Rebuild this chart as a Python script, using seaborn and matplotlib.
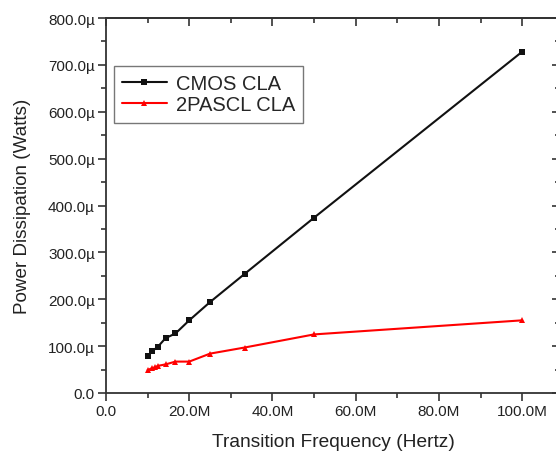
import numpy as np
import pandas as pd
import matplotlib
matplotlib.use("Agg")
import matplotlib.pyplot as plt
import seaborn as sns
from matplotlib.ticker import FuncFormatter, MultipleLocator

# frequencies in MHz, power in microwatts
cmos_freq = [10, 11.1, 12.5, 14.3, 16.7, 20, 25, 33.3, 50, 100]
cmos_power = [78, 89, 99, 117, 127, 155, 194, 254, 374, 728]

pascl_freq = [10, 11.1, 11.8, 12.5, 14.3, 16.7, 20, 25, 33.3, 50, 100]
pascl_power = [49, 53, 55, 58, 61, 67, 67, 84, 97, 125, 155]

series_names = ["CMOS CLA", "2PASCL CLA"]

sns.set_theme(style="white")
plt.rcParams['font.family'] = ['Liberation Sans', 'DejaVu Sans']

fig = plt.figure(figsize=(5.56, 4.6), dpi=100)
ax = fig.add_axes([106/556, 66/460, 454/556, 375/460])

df_cmos = pd.DataFrame({'freq': cmos_freq, 'power': cmos_power})
df_pascl = pd.DataFrame({'freq': pascl_freq, 'power': pascl_power})

sns.lineplot(data=df_cmos, x='freq', y='power', ax=ax, color='#111111', lw=1.5,
             marker='s', markersize=4.5, markeredgewidth=0, label=series_names[0])
sns.lineplot(data=df_pascl, x='freq', y='power', ax=ax, color='#ff0000', lw=1.5,
             marker='^', markersize=5, markeredgewidth=0, label=series_names[1])

ax.set_xlim(0, 109.1)
ax.set_ylim(0, 800)

ax.xaxis.set_major_locator(MultipleLocator(20))
ax.xaxis.set_minor_locator(MultipleLocator(10))
ax.yaxis.set_major_locator(MultipleLocator(100))
ax.yaxis.set_minor_locator(MultipleLocator(50))
ax.xaxis.set_major_formatter(FuncFormatter(lambda v, p: "0.0" if v == 0 else f"{v:.1f}M"))
ax.yaxis.set_major_formatter(FuncFormatter(lambda v, p: "0.0" if v == 0 else f"{v:.1f}\u00b5"))

ax.tick_params(which='major', direction='out', length=6, width=1.2, color='#333333',
               labelsize=11, colors='#333333', labelcolor='#222222', pad=2)
ax.tick_params(which='minor', direction='out', length=3.5, width=1.2, color='#333333')
ax.tick_params(axis='x', which='both', bottom=True)
ax.tick_params(axis='y', which='both', left=True)

for s in ax.spines.values():
    s.set_color('#333333')
    s.set_linewidth(1.3)

top = ax.secondary_xaxis('top')
top.xaxis.set_major_locator(MultipleLocator(20))
top.xaxis.set_minor_locator(MultipleLocator(10))
top.tick_params(which='major', direction='in', length=6, width=1.2, color='#333333', labeltop=False)
top.tick_params(which='minor', direction='in', length=3.5, width=1.2, color='#333333')
top.spines['top'].set_color('#333333')
top.spines['top'].set_linewidth(1.3)

right = ax.secondary_yaxis('right')
right.yaxis.set_major_locator(MultipleLocator(100))
right.yaxis.set_minor_locator(MultipleLocator(50))
right.tick_params(which='major', direction='in', length=6, width=1.2, color='#333333', labelright=False)
right.tick_params(which='minor', direction='in', length=3.5, width=1.2, color='#333333')

ax.set_xlabel("Transition Frequency (Hertz)", fontsize=13.8, color='#222222', labelpad=11)
ax.set_ylabel("Power Dissipation (Watts)", fontsize=13.6, color='#222222', labelpad=12)

leg = ax.legend(loc='upper left', bbox_to_anchor=(0.018, 0.872), borderaxespad=0,
                fontsize=14.5, frameon=True, fancybox=False, handlelength=2.2,
                handletextpad=0.45, borderpad=0.4, labelspacing=0.12)
leg.get_frame().set_edgecolor('#555555')
leg.get_frame().set_linewidth(1.0)

fig.savefig("out.png", dpi=100)
